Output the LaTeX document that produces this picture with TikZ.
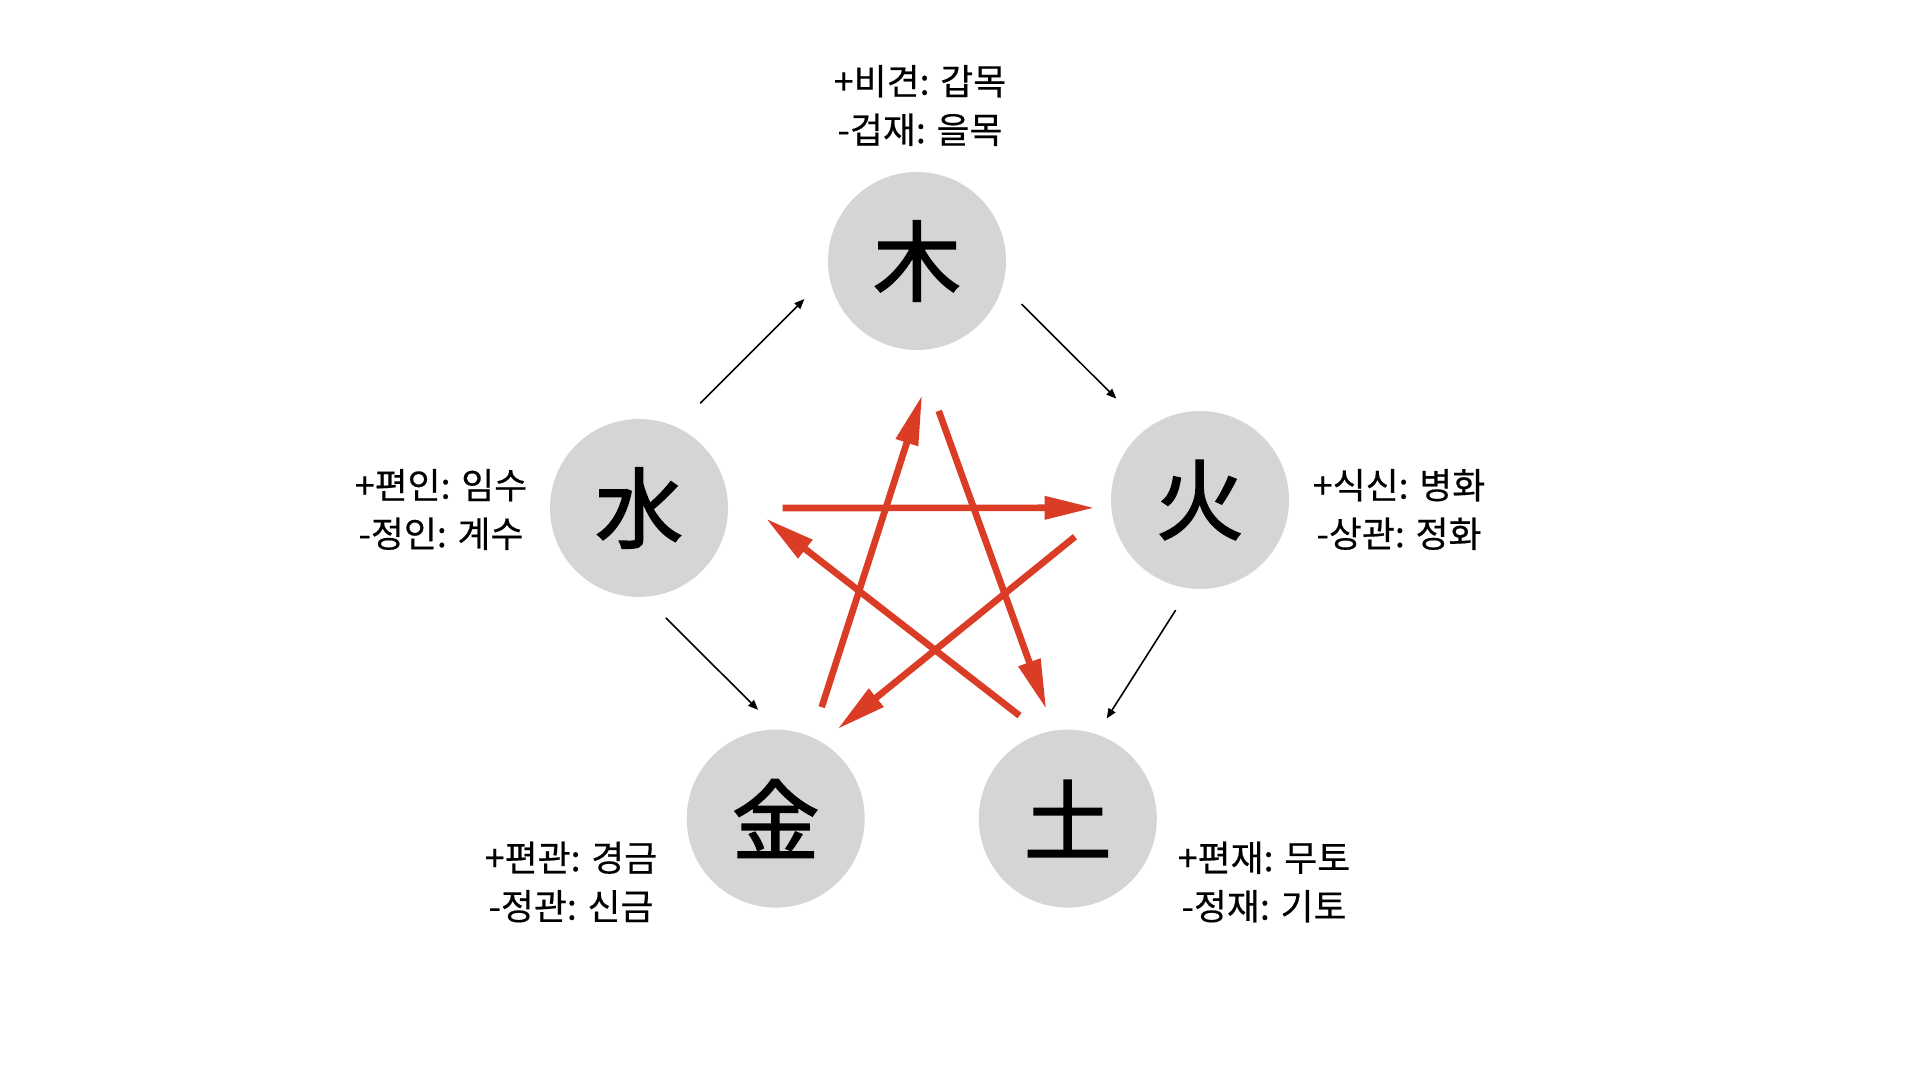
\documentclass[tikz,border=0pt]{standalone}
\usepackage{fontspec}
\newfontfamily\krelemfont[FakeBold=1.8]{Noto Sans CJK KR}
\newfontfamily\krfont[FakeBold=0.4]{Noto Sans CJK KR}
\usepackage{tikz}
\definecolor{wxgray}{RGB}{213,213,213}
\definecolor{wxred}{RGB}{218,60,38}
\usetikzlibrary{arrows.meta, positioning, calc}
\tikzset{
    wxelem/.style={circle, fill=wxgray, minimum size=1.78cm, inner sep=0pt, font=\krelemfont\fontsize{25}{25}\selectfont},
    wxlabel/.style={align=center, inner sep=0pt, font=\krfont\fontsize{10.2}{13.8}\selectfont},
    wxarrow/.style={-{Triangle[length=1mm, width=0.8mm]}, line width=0.45pt},
    wxcontrol/.style={-{Triangle[length=5mm, width=2.2mm]}, line width=1.9pt, color=wxred}
}
\begin{document}
\begin{tikzpicture}
  \path[use as bounding box] (0,0) rectangle (19.2,10.8);
  % the five elements
  \node[wxelem] (mu)   at (9.17, 8.19)   {木};
  \node[wxelem] (huo)  at (12.00, 5.80)  {火};
  \node[wxelem] (shui) at (6.39, 5.72)   {水};
  \node[wxelem] (jin)  at (7.757, 2.614) {金};
  \node[wxelem] (tu)   at (10.678, 2.614) {土};
  % ten gods beside each element
  \node[wxlabel] (mulabel)   at (9.20, 9.745) {+비견: 갑목\\-겁재: 을목};
  \node[wxlabel] (huolabel)  at (13.99, 5.705) {+식신: 병화\\-상관: 정화};
  \node[wxlabel] (shuilabel) at (4.41, 5.705) {+편인: 임수\\-정인: 계수};
  \node[wxlabel] (jinlabel)  at (5.71, 1.98) {+편관: 경금\\-정관: 신금};
  \node[wxlabel] (tulabel)   at (12.64, 1.98) {+편재: 무토\\-정재: 기토};
  % generating cycle
  \draw[wxarrow, shorten <=0.33cm, shorten >=0.34cm] (shui.65) -- (mu.189);
  \draw[wxarrow, shorten <=0.26cm, shorten >=0.42cm] (mu.-16) -- (huo.127);
  \draw[wxarrow, shorten <=0.29cm, shorten >=0.27cm] (shui.-86) -- (jin.89);
  \draw[wxarrow, shorten <=0.25cm, shorten >=0.18cm] (huo.-97) -- (tu.71);
  % controlling cycle
  \draw[wxcontrol, shorten <=0.54cm, shorten >=0.16cm] (shui.0) -- (huo.185);
  \draw[wxcontrol, shorten <=0.31cm, shorten >=0.49cm] (jin.66) -- (mu.-77);
  \draw[wxcontrol, shorten <=0.64cm, shorten >=0.22cm] (mu.-90) -- (tu.99);
  \draw[wxcontrol, shorten <=0.46cm, shorten >=0.20cm] (huo.185) -- (jin.59);
  \draw[wxcontrol, shorten <=0.28cm, shorten >=0.50cm] (tu.107) -- (shui.13);
\end{tikzpicture}
\end{document}
